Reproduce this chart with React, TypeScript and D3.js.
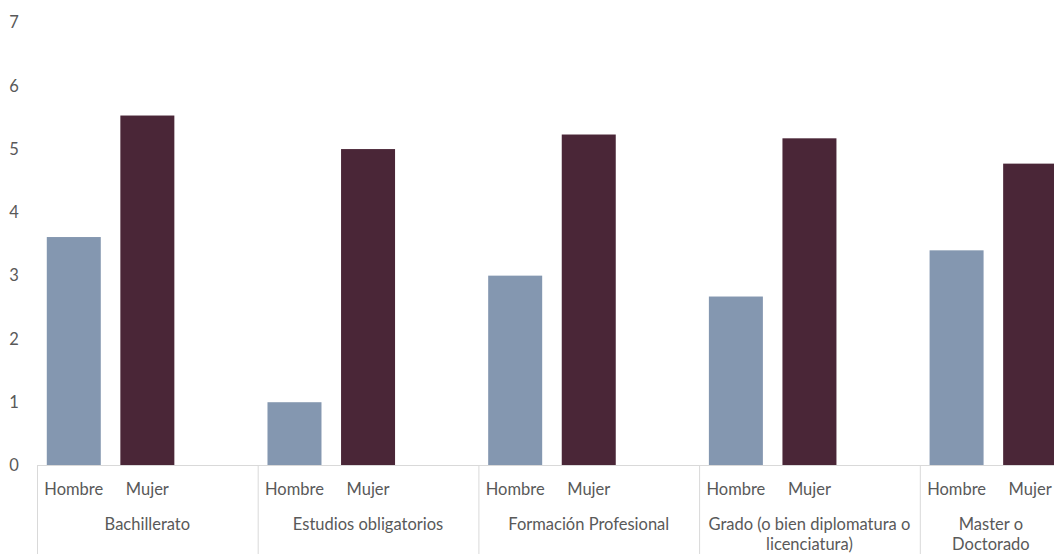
import React from "react";
import * as d3 from "d3";

const groups = [
  "Bachillerato",
  "Estudios obligatorios",
  "Formación Profesional",
  "Grado (o bien diplomatura o licenciatura)",
  "Master o Doctorado",
];
const groupLines = [
  ["Bachillerato"],
  ["Estudios obligatorios"],
  ["Formación Profesional"],
  ["Grado (o bien diplomatura o", "licenciatura)"],
  ["Master o", "Doctorado"],
];
const series = ["Hombre", "Mujer"];
const slots = ["Hombre", "Mujer", ""];
const hombre = [3.61, 1.0, 3.0, 2.67, 3.4];
const mujer = [5.53, 5.0, 5.23, 5.17, 4.77];
const yTicks = [0, 1, 2, 3, 4, 5, 6, 7];
const colors = { Hombre: "#8497B0", Mujer: "#4A2637" };

const W = 1054;
const H = 554;

export default function App() {
  const left = 37;
  const groupW = 220.7;
  const x0 = d3
    .scaleBand<string>()
    .domain(groups)
    .range([left, left + groupW * groups.length])
    .padding(0);
  const x1 = d3.scaleBand<string>().domain(slots).range([0, x0.bandwidth()]).padding(0);
  const y = d3.scaleLinear().domain([0, 7]).range([465.5, 22.5]);
  const barW = 54;
  const font = "Lato, 'Open Sans', sans-serif";
  const txt = "#595959";
  const grid = "#D9D9D9";
  const fs = 16.5;
  const values: Record<string, number[]> = { Hombre: hombre, Mujer: mujer };

  return (
    <svg
      width={W}
      height={H}
      style={{ position: "absolute", left: 0, top: 0, background: "#fff" }}
      fontFamily={font}
    >
      {yTicks.map((t) => (
        <text
          key={t}
          x={14}
          y={y(t)}
          dy="0.35em"
          textAnchor="middle"
          fontSize={fs}
          fill={txt}
        >
          {t}
        </text>
      ))}
      {groups.map((g, gi) =>
        series.map((s) => {
          const cx = (x0(g) as number) + (x1(s) as number) + x1.bandwidth() / 2;
          const v = values[s][gi];
          return (
            <rect
              key={g + s}
              x={cx - barW / 2}
              y={y(v)}
              width={barW}
              height={y(0) - y(v)}
              fill={colors[s as "Hombre" | "Mujer"]}
            />
          );
        })
      )}
      <line x1={left} x2={W} y1={y(0)} y2={y(0)} stroke={grid} strokeWidth={1} />
      {groups.map((g) => (
        <line
          key={"sep" + g}
          x1={(x0(g) as number) + 0.5}
          x2={(x0(g) as number) + 0.5}
          y1={y(0)}
          y2={H}
          stroke={grid}
          strokeWidth={1}
        />
      ))}
      {groups.map((g) =>
        series.map((s) => {
          const cx = (x0(g) as number) + (x1(s) as number) + x1.bandwidth() / 2;
          return (
            <text
              key={"lbl" + g + s}
              x={cx}
              y={489}
              dy="0.35em"
              textAnchor="middle"
              fontSize={fs}
              fill={txt}
            >
              {s}
            </text>
          );
        })
      )}
      {groups.map((g, gi) => {
        const start = x0(g) as number;
        const end = Math.min(start + x0.bandwidth(), W);
        const cx = (start + end) / 2 + (end < start + x0.bandwidth() ? 4 : 0);
        return groupLines[gi].map((ln, li) => (
          <text
            key={"g" + g + li}
            x={cx}
            y={524 + li * 20.5}
            dy="0.35em"
            textAnchor="middle"
            fontSize={fs}
            fill={txt}
          >
            {ln}
          </text>
        ));
      })}
    </svg>
  );
}
